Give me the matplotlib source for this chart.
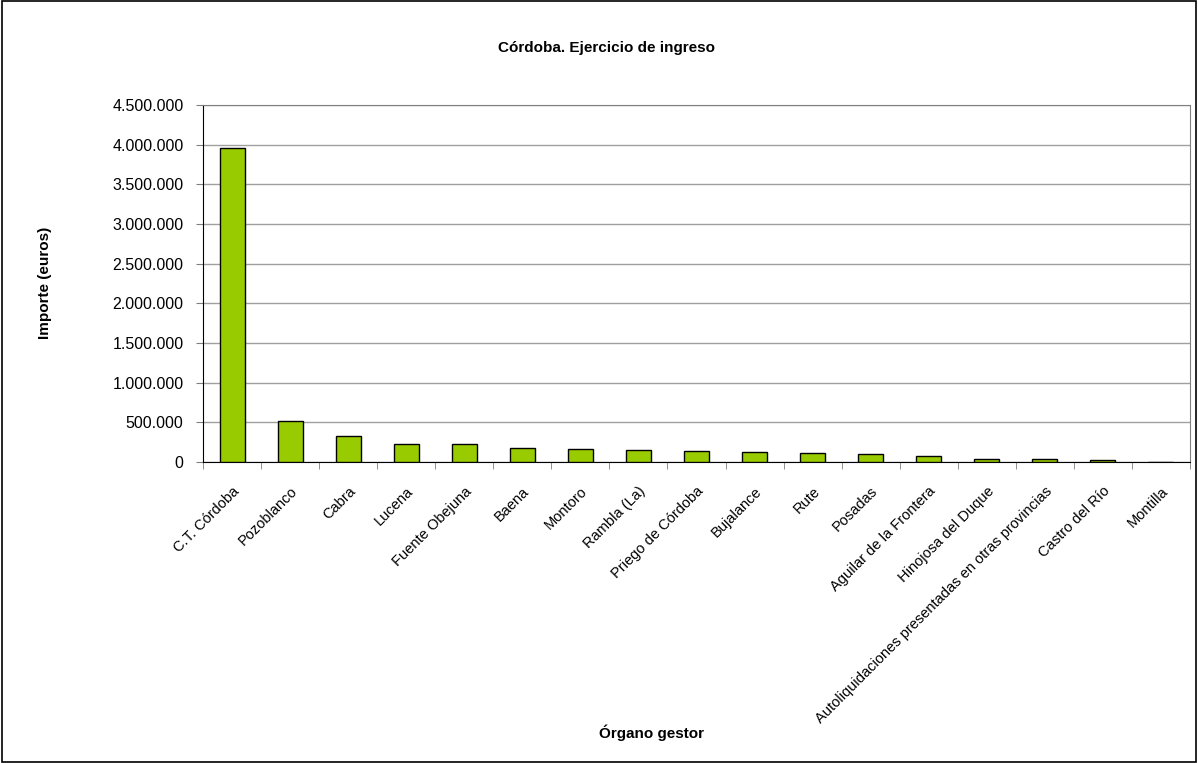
import matplotlib
matplotlib.use("Agg")
import matplotlib.pyplot as plt
from matplotlib.ticker import FuncFormatter, FixedLocator
from matplotlib.patches import Rectangle

categories = ["C.T. Córdoba", "Pozoblanco", "Cabra", "Lucena", "Fuente Obejuna", "Baena",
              "Montoro", "Rambla (La)", "Priego de Córdoba", "Bujalance", "Rute", "Posadas",
              "Aguilar de la Frontera", "Hinojosa del Duque",
              "Autoliquidaciones presentadas en otras provincias", "Castro del Río", "Montilla"]
values = [3955000, 520000, 324000, 222000, 221000, 172000, 160000, 147000, 135000,
          122000, 110000, 97000, 72000, 34000, 32000, 21000, 1000]
yticks = [0, 500000, 1000000, 1500000, 2000000, 2500000, 3000000, 3500000, 4000000, 4500000]

plt.rcParams['font.family'] = ['Liberation Sans', 'DejaVu Sans']

fig = plt.figure(figsize=(11.98, 7.63), dpi=100)
ax = fig.add_axes([203/1198, 1-462/763, (1190-203)/1198, (462-105)/763])

x = list(range(len(categories)))
ax.bar(x, values, width=0.43, color="#99CC00", edgecolor="black", linewidth=1.0, zorder=3)

ax.set_xlim(-0.5, len(categories)-0.5)
ax.set_ylim(0, 4500000)
ax.set_yticks(yticks)
ax.yaxis.set_major_formatter(FuncFormatter(lambda v, p: f"{int(v):,}".replace(",", ".")))
ax.grid(axis="y", color="#a0a0a0", linewidth=1.0, zorder=0)
ax.set_xticks(x)
ax.set_xticklabels(categories, rotation=45, ha="right", rotation_mode="anchor", fontsize=10.5)
ax.tick_params(axis="x", length=0, pad=16)
ax.xaxis.set_minor_locator(FixedLocator([i - 0.5 for i in range(len(categories)+1)]))
ax.tick_params(axis="x", which="minor", length=5, direction="out", color="#808080")
ax.tick_params(axis="y", labelsize=11.5, length=5, pad=9, direction="out", color="#808080")

for side in ["top", "right", "bottom", "left"]:
    ax.spines[side].set_color("#808080")
ax.spines["left"].set_color("black")
ax.spines["bottom"].set_color("black")

fig.text(606/1198, 1-48/763, "Córdoba. Ejercicio de ingreso", ha="center", va="center",
         fontsize=11, fontweight="bold")
fig.text(651/1198, 1-733/763, "Órgano gestor", ha="center", va="center",
         fontsize=11, fontweight="bold")
fig.text(45/1198, 1-283/763, "Importe (euros)", ha="center", va="center", rotation=90,
         fontsize=11, fontweight="bold")

fig.patches.append(Rectangle((0.0015, 0.0015), 0.997, 0.997, transform=fig.transFigure,
                             fill=False, edgecolor="black", linewidth=1.2))

fig.savefig("out.png", dpi=100)
